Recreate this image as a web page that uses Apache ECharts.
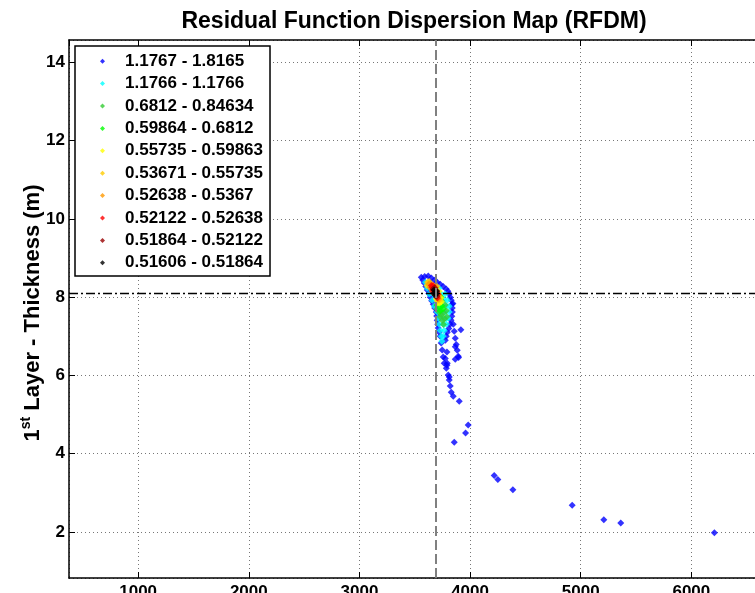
<!DOCTYPE html>
<html>
<head>
<meta charset="utf-8">
<title>RFDM</title>
<script src="https://cdn.jsdelivr.net/npm/echarts@6/dist/echarts.min.js"></script>
<style>
  html, body { margin: 0; padding: 0; background: #fff; }
  #chart { width: 755px; height: 593px; }
</style>
</head>
<body>
<div id="chart"></div>
<script>
  // legend ranges (residual classes) and their colours
  const rangeNames = [
    '1.1767 - 1.8165', '1.1766 - 1.1766', '0.6812 - 0.84634', '0.59864 - 0.6812',
    '0.55735 - 0.59863', '0.53671 - 0.55735', '0.52638 - 0.5367', '0.52122 - 0.52638',
    '0.51864 - 0.52122', '0.51606 - 0.51864'
  ];
  const rangeColors = ['#0000ff', '#00ffff', '#33cc33', '#00ff00', '#ffff00',
    '#ffcc00', '#ff9900', '#ff0000', '#990000', '#000000'];

  // [velocity, thickness] points per class
  const ptsBlue = [
    [3559, 8.51], [3572, 8.44], [3586, 8.36], [3600, 8.27], [3613, 8.18], [3627, 8.09],
    [3640, 8.00], [3653, 7.91], [3667, 7.82], [3680, 7.72], [3694, 7.62], [3698, 7.52],
    [3703, 7.41], [3708, 7.31], [3712, 7.21], [3721, 7.10], [3730, 7.00], [3739, 6.83],
    [3590, 8.53], [3622, 8.54], [3650, 8.49], [3676, 8.43], [3703, 8.38], [3730, 8.33],
    [3757, 8.27], [3784, 8.21], [3800, 8.15], [3812, 8.08], [3821, 8.00], [3830, 7.92],
    [3845, 7.84], [3836, 7.82], [3839, 7.72], [3840, 7.62], [3835, 7.51], [3828, 7.41],
    [3821, 7.31], [3808, 7.20], [3794, 7.10], [3785, 7.00], [3776, 6.90], [3917, 7.17],
    [3748, 6.65], [3757, 6.47], [3766, 6.31], [3785, 6.18], [3794, 6.31], [3791, 6.26],
    [3803, 6.01], [3812, 5.88], [3812, 5.96], [3821, 5.73], [3830, 5.57], [3848, 5.47],
    [3902, 5.34], [3791, 6.60], [3776, 6.43],
    [3848, 7.31], [3857, 7.13], [3866, 6.95], [3875, 6.79], [3866, 6.73], [3884, 6.64],
    [3893, 6.49], [3896, 6.46], [3866, 6.41],
    [3857, 4.29], [3959, 4.53], [3983, 4.73], [4218, 3.44], [4251, 3.34], [4387, 3.08],
    [4923, 2.68], [5209, 2.31], [5362, 2.23], [6208, 1.98]
  ];
  const ptsCyan = [
    [3595, 8.38], [3625, 8.38], [3613, 8.23], [3649, 8.23], [3685, 8.23], [3721, 8.23],
    [3631, 8.08], [3667, 8.08], [3703, 8.08], [3739, 8.08], [3775, 8.08],
    [3658, 7.92], [3694, 7.92], [3730, 7.92], [3766, 7.92], [3794, 7.92],
    [3676, 7.77], [3712, 7.77], [3748, 7.77], [3784, 7.77], [3812, 7.77],
    [3703, 7.62], [3739, 7.62], [3775, 7.62], [3812, 7.62],
    [3712, 7.46], [3748, 7.46], [3784, 7.46], [3803, 7.46],
    [3721, 7.31], [3757, 7.31], [3785, 7.31],
    [3730, 7.15], [3766, 7.15], [3739, 7.00], [3757, 7.00], [3745, 6.87]
  ];
  const ptsGreen = [
    [3740, 7.55], [3760, 7.60], [3770, 7.45], [3750, 7.40], [3785, 7.65], [3775, 7.80],
    [3760, 7.30], [3730, 7.50], [3790, 7.50], [3700, 7.70], [3745, 7.90], [3720, 7.62]
  ];
  const ptsLime = [
    [3720, 7.75], [3745, 7.78], [3730, 7.65], [3755, 7.70], [3700, 7.80], [3740, 8.00]
  ];
  const ptsYellow = [
    [3610, 8.30], [3725, 7.85], [3740, 7.88], [3735, 7.98], [3710, 7.85], [3695, 7.95], [3720, 8.15]
  ];
  const ptsGold = [
    [3615, 8.38], [3630, 8.40], [3705, 7.90], [3725, 7.92], [3700, 8.28], [3670, 8.30]
  ];
  const ptsOrange = [
    [3625, 8.33], [3640, 8.35], [3635, 8.25], [3650, 8.20], [3715, 7.95], [3720, 8.05], [3690, 8.25]
  ];
  const ptsRed = [
    [3655, 8.25], [3650, 8.30], [3665, 8.30], [3705, 7.98], [3710, 8.08], [3660, 8.15]
  ];
  const ptsDarkRed = [
    [3665, 8.20], [3700, 8.02], [3670, 8.10], [3700, 8.16], [3680, 8.24]
  ];
  const ptsBlack = [
    [3680, 8.12], [3690, 8.08], [3675, 8.18], [3695, 8.15], [3685, 8.05]
  ];
  const classPoints = [ptsBlue, ptsCyan, ptsGreen, ptsLime, ptsYellow,
    ptsGold, ptsOrange, ptsRed, ptsDarkRed, ptsBlack];

  // reference (true) model
  const refVelocity = 3690;
  const refThickness = 8.1;

  const xMin = 375, xMax = 7000;
  const yMin = 0.824, yMax = 14.57;

  const font = '"Liberation Sans", Arial, Helvetica, sans-serif';

  let chart = echarts.init(document.getElementById('chart'));

  let series = [{
    name: 'ref',
    type: 'scatter',
    data: [],
    silent: true,
    markLine: {
      silent: true,
      symbol: 'none',
      animation: false,
      label: { show: false },
      data: [
        { xAxis: refVelocity, lineStyle: { color: '#808080', width: 2, type: [10, 4] } },
        { yAxis: refThickness, lineStyle: { color: '#000', width: 1.3, type: [9, 3, 2, 3] } }
      ]
    }
  }];
  rangeNames.forEach(function (name, i) {
    series.push({
      name: name,
      type: 'scatter',
      symbol: 'diamond',
      symbolSize: 7,
      itemStyle: { color: rangeColors[i] },
      data: classPoints[i]
    });
  });

  let option = {
    backgroundColor: '#fff',
    animation: false,
    grid: { left: 69, top: 40, right: -47, bottom: 15, outerBoundsMode: 'none', containLabel: false },
    xAxis: [{
      type: 'value',
      min: xMin,
      max: xMax,
      splitNumber: 6,
      axisLine: { lineStyle: { color: '#000', width: 1.5 } },
      axisTick: { inside: true, length: 6, lineStyle: { color: '#000' } },
      axisLabel: {
        margin: 6,
        color: '#000',
        fontFamily: font,
        fontWeight: 'bold',
        fontSize: 17,
        showMinLabel: false,
        formatter: function (v) { return v % 1000 === 0 ? String(v) : ''; }
      },
      splitLine: { show: true, lineStyle: { color: '#777', width: 1, type: [1, 3] } }
    }, {
      type: 'value',
      position: 'top',
      min: xMin,
      max: xMax,
      splitNumber: 6,
      axisLine: { lineStyle: { color: '#000', width: 1.5 } },
      axisTick: { inside: true, length: 6, lineStyle: { color: '#000' } },
      axisLabel: { show: false },
      splitLine: { show: false }
    }],
    yAxis: {
      type: 'value',
      min: yMin,
      max: yMax,
      splitNumber: 7,
      axisLine: { show: true, lineStyle: { color: '#000', width: 1.5 } },
      axisTick: { show: true, inside: true, length: 6, lineStyle: { color: '#000' } },
      axisLabel: {
        margin: 4,
        color: '#000',
        fontFamily: font,
        fontWeight: 'bold',
        fontSize: 17,
        showMinLabel: false,
        showMaxLabel: false,
        formatter: function (v) { return v % 2 === 0 ? String(v) : ''; }
      },
      splitLine: { show: true, lineStyle: { color: '#777', width: 1, type: [1, 3] } }
    },
    legend: {
      orient: 'vertical',
      left: 75,
      top: 46,
      itemWidth: 5,
      itemHeight: 5,
      itemGap: 0,
      symbolKeepAspect: true,
      padding: [4, 7, 2, 25],
      backgroundColor: '#fff',
      borderColor: '#000',
      borderWidth: 1.5,
      borderRadius: 0,
      selectedMode: false,
      textStyle: {
        fontFamily: font,
        fontWeight: 'bold',
        fontSize: 17,
        lineHeight: 22.4,
        padding: [0, 0, 0, 15],
        color: '#000'
      },
      data: rangeNames
    },
    graphic: [{
      type: 'text',
      x: 414,
      y: 22,
      style: {
        text: 'Residual Function Dispersion Map (RFDM)',
        fontFamily: font,
        fontWeight: 'bold',
        fontSize: 23,
        fill: '#000',
        align: 'center',
        verticalAlign: 'middle'
      }
    }, {
      type: 'text',
      x: 33,
      y: 313,
      rotation: Math.PI / 2,
      style: {
        text: '{a|1}{b|st}{a| Layer - Thickness (m)}',
        align: 'center',
        verticalAlign: 'middle',
        rich: {
          a: { fontFamily: font, fontWeight: 'bold', fontSize: 22, lineHeight: 28, fill: '#000' },
          b: { fontFamily: font, fontWeight: 'bold', fontSize: 14, verticalAlign: 'top', fill: '#000' }
        }
      }
    }],
    series: series
  };
  chart.setOption(option);
</script>
</body>
</html>
